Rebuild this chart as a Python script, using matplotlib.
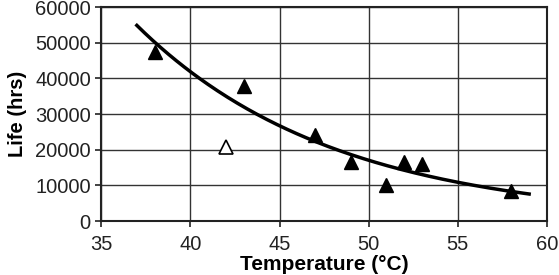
import matplotlib.pyplot as plt
import numpy as np

plt.rcParams['font.family'] = ['Liberation Sans', 'DejaVu Sans']

# measured life data (filled = used in fit, open = outlier)
temp = [38, 43, 47, 49, 51, 52, 53, 58]
life = [47500, 38000, 24000, 16500, 10000, 16500, 16000, 8500]
outlier_temp = [42]
outlier_life = [20700]

# exponential trend line fitted to the filled points
k, b = np.polyfit(temp, np.log(life), 1)
xt = np.linspace(37, 59, 200)
yt = np.exp(b + k * xt)

fig = plt.figure(figsize=(5.59, 2.75), dpi=100)
ax = fig.add_axes([0.181, 0.196, 0.7975, 0.7785])

ax.plot(xt, yt, color='black', lw=2.5, zorder=3)
ax.plot(temp, life, '^', color='black', ms=10, zorder=4)
ax.plot(outlier_temp, outlier_life, '^', mfc='white', mec='black', mew=1.2, ms=10, zorder=4)

ax.set_xlim(35, 60)
ax.set_ylim(0, 60000)
ax.set_xticks(np.arange(35, 61, 5))
ax.set_yticks(np.arange(0, 60001, 10000))
ax.grid(True, color='#333333', lw=1)
ax.set_axisbelow(True)
for s in ax.spines.values():
    s.set_linewidth(1.5)
    s.set_color('#222222')
ax.tick_params(labelsize=14.5, length=4, width=1.2, direction='out', colors='#222222')
ax.tick_params(axis='x', pad=6)
ax.set_xlabel('Temperature (°C)', fontsize=15, fontweight='bold', labelpad=1)
ax.set_ylabel('Life (hrs)', fontsize=14.5, fontweight='bold', labelpad=6)

fig.savefig('out.png', dpi=100)
